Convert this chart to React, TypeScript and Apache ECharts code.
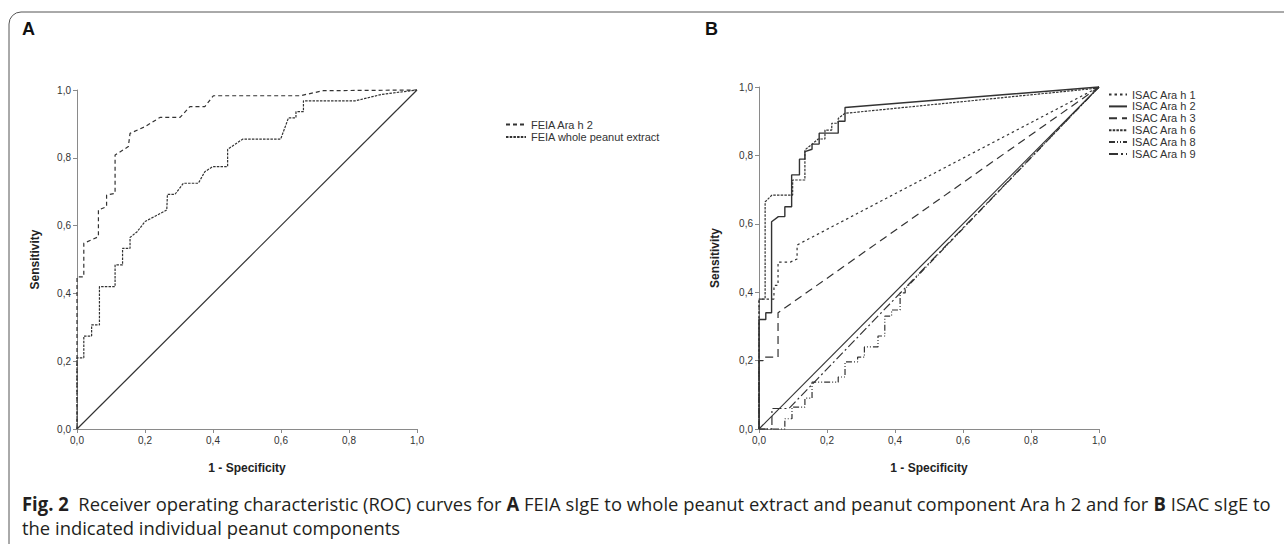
import React, { useEffect, useRef } from "react";
import * as echarts from "echarts";

// ---------- Data ----------
const xTicks = [0, 0.2, 0.4, 0.6, 0.8, 1.0];

// Panel A
const feiaAraH2: number[][] = [
  [0, 0], [0, 0.449], [0.02, 0.449], [0.02, 0.548], [0.063, 0.567], [0.063, 0.646],
  [0.087, 0.656], [0.087, 0.69], [0.112, 0.695], [0.112, 0.808], [0.151, 0.833],
  [0.156, 0.872], [0.2, 0.892], [0.244, 0.919], [0.303, 0.919], [0.332, 0.951],
  [0.376, 0.951], [0.401, 0.983], [0.656, 0.983], [0.724, 0.998], [1, 1],
];
const feiaWholePeanut: number[][] = [
  [0, 0], [0, 0.21], [0.02, 0.21], [0.02, 0.274], [0.043, 0.274], [0.043, 0.307],
  [0.066, 0.307], [0.066, 0.42], [0.112, 0.42], [0.112, 0.484], [0.134, 0.484],
  [0.134, 0.533], [0.156, 0.533], [0.156, 0.565], [0.177, 0.582], [0.2, 0.612],
  [0.264, 0.646], [0.266, 0.692], [0.288, 0.692], [0.313, 0.725], [0.357, 0.725],
  [0.376, 0.759], [0.399, 0.774], [0.443, 0.774], [0.443, 0.825], [0.465, 0.84],
  [0.487, 0.855], [0.599, 0.855], [0.622, 0.918], [0.644, 0.918], [0.644, 0.936],
  [0.666, 0.936], [0.666, 0.968], [0.818, 0.968], [0.896, 0.987], [1, 1],
];
const referenceLine: number[][] = [[0, 0], [1, 1]];

// Panel B
const isacAraH1: number[][] = [
  [0, 0], [0, 0.38], [0.044, 0.38], [0.044, 0.42], [0.056, 0.42], [0.056, 0.488],
  [0.092, 0.488], [0.112, 0.497], [0.112, 0.538], [1, 1],
];
const isacAraH2: number[][] = [
  [0, 0], [0, 0.32], [0.02, 0.32], [0.02, 0.34], [0.037, 0.34], [0.037, 0.606],
  [0.057, 0.621], [0.076, 0.621], [0.076, 0.65], [0.096, 0.65], [0.096, 0.743],
  [0.119, 0.743], [0.119, 0.789], [0.135, 0.789], [0.135, 0.811], [0.156, 0.818],
  [0.156, 0.833], [0.177, 0.833], [0.177, 0.865], [0.233, 0.865], [0.233, 0.9],
  [0.253, 0.9], [0.253, 0.94], [1, 1],
];
const isacAraH3: number[][] = [
  [0, 0], [0, 0.2], [0.012, 0.2], [0.012, 0.21], [0.056, 0.21], [0.056, 0.34], [1, 1],
];
const isacAraH6: number[][] = [
  [0, 0], [0, 0.38], [0.018, 0.38], [0.018, 0.664], [0.038, 0.684], [0.099, 0.684],
  [0.099, 0.728], [0.135, 0.728], [0.135, 0.816], [0.155, 0.832], [0.174, 0.848],
  [0.194, 0.848], [0.194, 0.874], [0.214, 0.874], [0.214, 0.894], [0.233, 0.894],
  [0.233, 0.908], [0.253, 0.923], [1, 0.997],
];
const isacAraH8: number[][] = [
  [0, 0], [0.076, 0], [0.076, 0.03], [0.097, 0.03], [0.097, 0.064], [0.135, 0.064],
  [0.135, 0.09], [0.156, 0.09], [0.156, 0.137], [0.233, 0.137], [0.233, 0.152],
  [0.253, 0.152], [0.253, 0.196], [0.29, 0.196], [0.29, 0.21], [0.31, 0.21],
  [0.31, 0.24], [0.35, 0.24], [0.35, 0.272], [0.37, 0.272], [0.37, 0.33],
  [0.39, 0.33], [0.39, 0.348], [0.415, 0.348], [0.415, 0.398], [0.43, 0.398],
  [0.43, 0.41], [1, 1],
];
const isacAraH9: number[][] = [
  [0, 0], [0.038, 0], [0.038, 0.06], [0.088, 0.06], [1, 1],
];

const legendA = ["FEIA Ara h 2", "FEIA whole peanut extract"];
const legendB = ["ISAC Ara h 1", "ISAC Ara h 2", "ISAC Ara h 3", "ISAC Ara h 6", "ISAC Ara h 8", "ISAC Ara h 9"];

const LINE = "#333333";
const AXIS = "#8a8a8a";
const FONT = "Liberation Sans, Arial, sans-serif";

const fmt = (v: number) => v.toFixed(1).replace(".", ",");

function axisBase() {
  return {
    type: "value" as const,
    min: 0,
    max: 1,
    interval: 0.2,
    axisLine: { show: true, lineStyle: { color: AXIS, width: 1 } },
    axisTick: { show: true, length: 4, lineStyle: { color: AXIS } },
    splitLine: { show: false },
    axisLabel: { fontSize: 10, color: "#333", fontFamily: FONT, margin: 6, formatter: fmt },
    nameLocation: "middle" as const,
    nameTextStyle: { fontSize: 12, fontWeight: "bold" as const, color: "#222", fontFamily: FONT },
  };
}

function series(name: string, data: number[][], idx: number, type: any, width = 1.2) {
  return {
    name,
    type: "line" as const,
    xAxisIndex: idx,
    yAxisIndex: idx,
    data,
    symbol: "none",
    clip: false,
    lineStyle: { color: LINE, width, type },
    itemStyle: { color: LINE },
  };
}

const legendCommon = {
  orient: "vertical" as const,
  padding: 0,
  itemHeight: 8,
  textStyle: { fontSize: 11, color: "#333", fontFamily: FONT },
  itemStyle: { opacity: 0, color: "transparent", borderWidth: 0 },
  selectedMode: false,
};

export default function App() {
  const ref = useRef<HTMLDivElement>(null);
  useEffect(() => {
    if (!ref.current) return;
    const chart = echarts.init(ref.current, undefined, { renderer: "svg" });
    const option: any = {
      animation: false,
      backgroundColor: "#ffffff",
      grid: [
        { left: 77, top: 90, width: 340, height: 339 },
        { left: 759, top: 87, width: 340, height: 342 },
      ],
      xAxis: [
        { ...axisBase(), gridIndex: 0, name: "1 - Specificity", nameGap: 33 },
        { ...axisBase(), gridIndex: 1, name: "1 - Specificity", nameGap: 33 },
      ],
      yAxis: [
        { ...axisBase(), gridIndex: 0, name: "Sensitivity", nameGap: 36 },
        { ...axisBase(), gridIndex: 1, name: "Sensitivity", nameGap: 38 },
      ],
      legend: [
        { ...legendCommon, data: legendA, left: 505, top: 119, itemWidth: 20, itemGap: 1.5 },
        { ...legendCommon, data: legendB, left: 1108, top: 89, itemWidth: 18, itemGap: 0.9 },
      ],
      series: [
        series("refA", referenceLine, 0, "solid"),
        series(legendA[0], feiaAraH2, 0, [4, 3]),
        series(legendA[1], feiaWholePeanut, 0, [2.5, 1.2]),
        series("refB", referenceLine, 1, "solid"),
        series(legendB[0], isacAraH1, 1, [2.5, 3]),
        series(legendB[1], isacAraH2, 1, "solid", 1.4),
        series(legendB[2], isacAraH3, 1, [8, 5]),
        series(legendB[3], isacAraH6, 1, [2.5, 1.2]),
        series(legendB[4], isacAraH8, 1, [6, 2, 1, 2, 1, 2]),
        series(legendB[5], isacAraH9, 1, [9, 3, 2, 3]),
      ],
      graphic: [
        {
          type: "rect",
          shape: { x: 9, y: 12, width: 1300, height: 560, r: 12 },
          style: { fill: "none", stroke: "#555", lineWidth: 1 },
          silent: true,
        },
        {
          type: "text",
          x: 22,
          y: 20,
          style: { text: "A", font: `bold 18px ${FONT}`, fill: "#111" },
        },
        {
          type: "text",
          x: 705,
          y: 20,
          style: { text: "B", font: `bold 18px ${FONT}`, fill: "#111" },
        },
        {
          type: "group",
          x: 22,
          y: 491,
          scaleX: 0.97,
          children: [
            {
              type: "text",
              style: {
                text:
                  "{b|Fig. 2}  Receiver operating characteristic (ROC) curves for {b|A} FEIA sIgE to whole peanut extract and peanut component Ara h 2 and for {b|B} ISAC sIgE to\nthe indicated individual peanut components",
                font: `19px "Open Sans", sans-serif`,
                fill: "#231f20",
                lineHeight: 24,
                rich: {
                  b: { fontWeight: "bold", fontSize: 19, fontFamily: "Open Sans", fill: "#231f20", lineHeight: 24 },
                },
              },
            },
          ],
        },
      ],
    };
    chart.setOption(option);
    return () => chart.dispose();
  }, []);
  return (
    <div
      ref={ref}
      style={{ position: "fixed", left: 0, top: 0, width: 1284, height: 544, background: "#fff" }}
    />
  );
}
